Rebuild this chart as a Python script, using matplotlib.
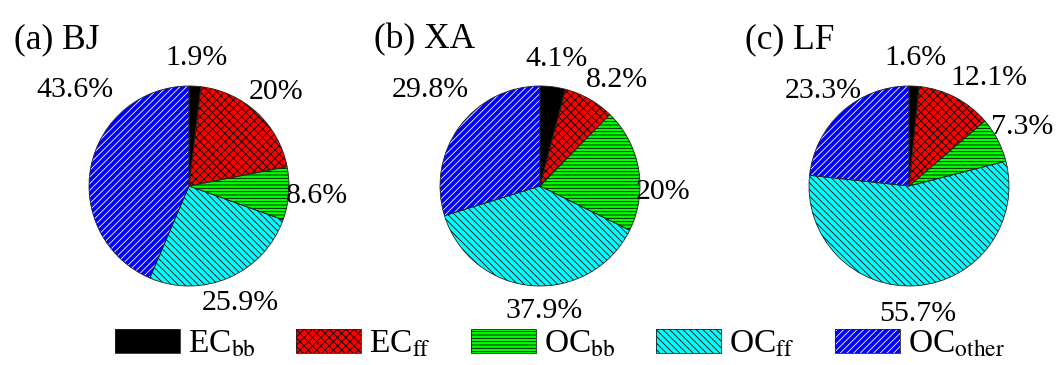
import numpy as np
import matplotlib
matplotlib.use('Agg')
import matplotlib.pyplot as plt
from matplotlib.patches import Patch

plt.rcParams['font.family'] = ['Liberation Serif', 'DejaVu Serif']
plt.rcParams['mathtext.fontset'] = 'stix'
plt.rcParams['hatch.linewidth'] = 0.6

# source contributions (%) for each site
sites = ['(a) BJ', '(b) XA', '(c) LF']
components = [r'EC$_{\mathrm{bb}}$', r'EC$_{\mathrm{ff}}$', r'OC$_{\mathrm{bb}}$',
              r'OC$_{\mathrm{ff}}$', r'OC$_{\mathrm{other}}$']
bj = [1.9, 20, 8.6, 25.9, 43.6]
xa = [4.1, 8.2, 20, 37.9, 29.8]
lf = [1.6, 12.1, 7.3, 55.7, 23.3]

colors = ['#000000', '#ff0000', '#00ff00', '#00ffff', '#0000ff']
hatches = ['', 'xxxx', '-----', '\\' * 5, '/' * 5]
hatch_colors = ['black', 'black', 'black', 'black', 'white']

# a few labels sit off the default ring
label_moves = {(0, 4): (-1.14, 0.96), (1, 1): (0.77, 1.06), (1, 2): (1.23, -0.06),
               (1, 3): (0.04, -1.25), (1, 4): (-1.10, 0.96), (2, 1): (0.80, 1.08)}


def main():
    W, H = 1063, 365
    fig = plt.figure(figsize=(W / 100, H / 100), dpi=100)

    centers = [189, 540, 909]
    cy = H - 186
    r = 100
    L = 1.5
    side = 2 * L * r
    title_x = [57, 425, 790]

    for i, vals in enumerate([bj, xa, lf]):
        ax = fig.add_axes([(centers[i] - side / 2) / W, (cy - side / 2) / H, side / W, side / H])
        it = iter(vals)
        wedges, texts, autotexts = ax.pie(vals, colors=colors, startangle=90, counterclock=False,
                                          autopct=lambda p: '%g%%' % next(it), pctdistance=1.28,
                                          wedgeprops=dict(linewidth=0))
        for k, w in enumerate(wedges):
            w.set_hatch(hatches[k])
            w.set_edgecolor(hatch_colors[k])
        # outlines on top
        ax.pie(vals, colors=['none'] * 5, startangle=90, counterclock=False,
               wedgeprops=dict(linewidth=0.6, edgecolor='#222222'))
        for k, t in enumerate(autotexts):
            t.set_fontsize(21.5)
            if (i, k) in label_moves:
                t.set_position(label_moves[(i, k)])
        ax.set_xlim(-L, L)
        ax.set_ylim(-L, L)
        ax.set_aspect('equal')
        ax.axis('off')

        fig.text(title_x[i] / W, (H - 40) / H, sites[i], fontsize=25.5, ha='center', va='center')

    handles = []
    for k in range(5):
        fill = Patch(facecolor=colors[k], hatch=hatches[k], edgecolor=hatch_colors[k], linewidth=0)
        edge = Patch(facecolor='none', edgecolor='#222222', linewidth=0.6)
        handles.append((fill, edge))
    fig.legend(handles, components, ncol=5, loc='center', bbox_to_anchor=(560 / W, 21 / H),
               frameon=False, fontsize=24, handlelength=1.95, handleheight=0.75,
               handletextpad=0.25, columnspacing=1.2, borderpad=0)

    fig.savefig('out.png', dpi=100)


if __name__ == '__main__':
    main()
